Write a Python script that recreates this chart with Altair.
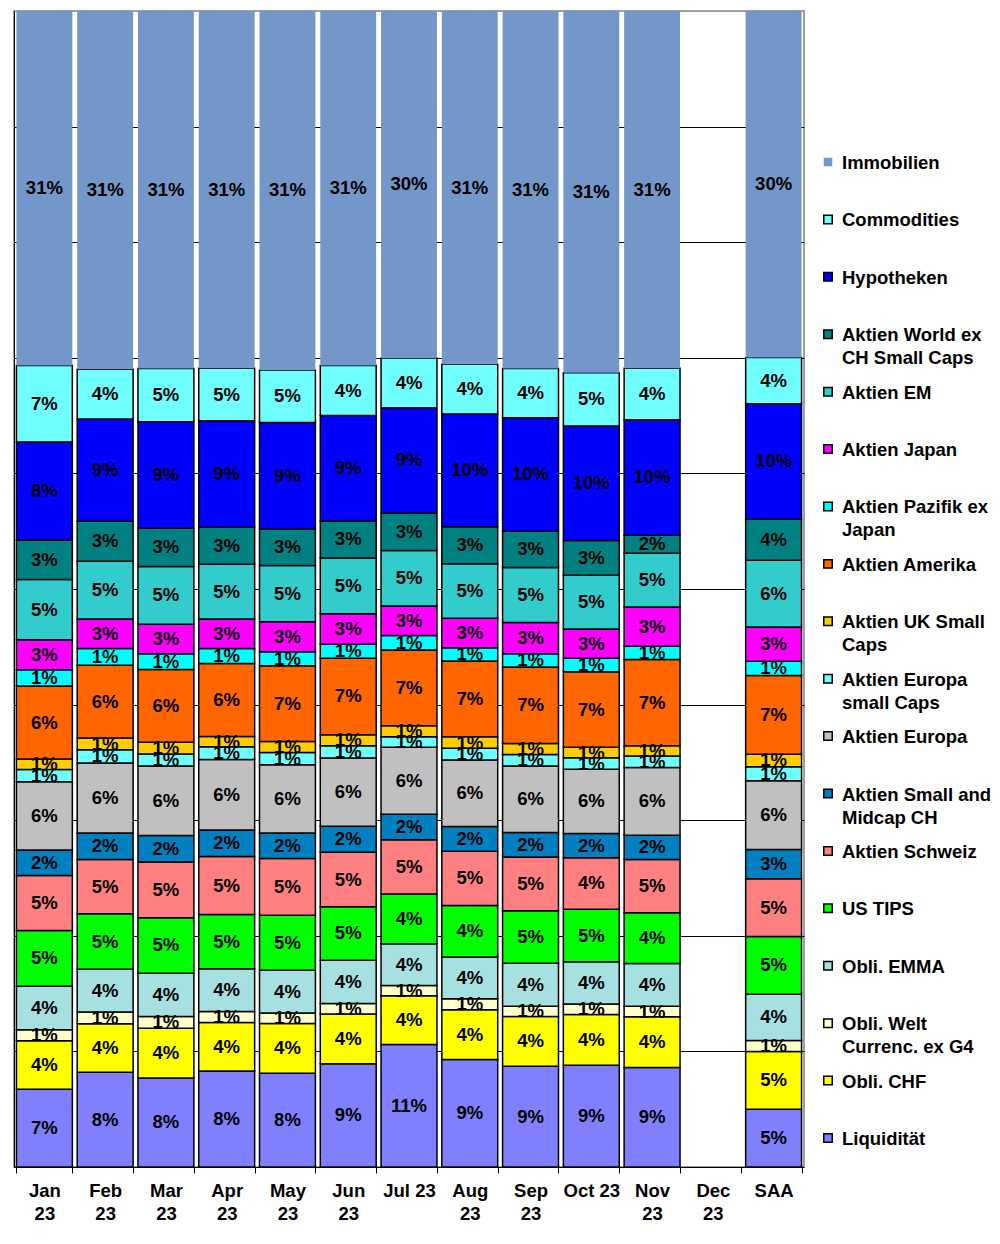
import altair as alt
import pandas as pd

categories = ["Jan 23", "Feb 23", "Mar 23", "Apr 23", "May 23", "Jun 23", "Jul 23",
              "Aug 23", "Sep 23", "Oct 23", "Nov 23", "Dec 23", "SAA"]
tick_lines = [["Jan", "23"], ["Feb", "23"], ["Mar", "23"], ["Apr", "23"], ["May", "23"],
              ["Jun", "23"], ["Jul 23"], ["Aug", "23"], ["Sep", "23"], ["Oct 23"],
              ["Nov", "23"], ["Dec", "23"], ["SAA"]]

# bottom to top of the stack
series = ["Liquidität", "Obli. CHF", "Obli. Welt Currenc. ex G4", "Obli. EMMA", "US TIPS",
          "Aktien Schweiz", "Aktien Small and Midcap CH", "Aktien Europa",
          "Aktien Europa small Caps", "Aktien UK Small Caps", "Aktien Amerika",
          "Aktien Pazifik ex Japan", "Aktien Japan", "Aktien EM",
          "Aktien World ex CH Small Caps", "Hypotheken", "Commodities", "Immobilien"]
legend_labels = ["Liquidität", "Obli. CHF", "Obli. Welt\nCurrenc. ex G4", "Obli. EMMA", "US TIPS",
                 "Aktien Schweiz", "Aktien Small and\nMidcap CH", "Aktien Europa",
                 "Aktien Europa\nsmall Caps", "Aktien UK Small\nCaps", "Aktien Amerika",
                 "Aktien Pazifik ex\nJapan", "Aktien Japan", "Aktien EM",
                 "Aktien World ex\nCH Small Caps", "Hypotheken", "Commodities", "Immobilien"]
colors = ["#8080FF", "#FFFF00", "#FFFFCC", "#A6E0E0", "#00FF00",
          "#FF8080", "#0080C0", "#C0C0C0",
          "#70FFFF", "#FFCC00", "#FF6600",
          "#00FFFF", "#FF00FF", "#33CCCC",
          "#008080", "#0000FF", "#70FFFF", "#7397C8"]

# values in percent, one per category (Dec 23 empty)
liquiditaet = [6.7, 8.2, 7.7, 8.3, 8.1, 8.9, 10.6, 9.3, 8.7, 8.8, 8.6, None, 5.0]
obli_chf = [4.2, 4.2, 4.3, 4.2, 4.3, 4.3, 4.2, 4.3, 4.3, 4.4, 4.4, None, 5.0]
obli_welt = [0.95, 1.0, 1.0, 0.95, 0.9, 0.9, 0.9, 0.95, 0.9, 0.9, 0.9, None, 0.95]
obli_emma = [3.75, 3.7, 3.75, 3.7, 3.7, 3.75, 3.6, 3.6, 3.7, 3.65, 3.7, None, 4.0]
us_tips = [4.8, 4.8, 4.8, 4.7, 4.75, 4.6, 4.3, 4.45, 4.55, 4.55, 4.4, None, 5.0]
aktien_schweiz = [4.75, 4.7, 4.8, 5.0, 4.9, 4.7, 4.7, 4.7, 4.65, 4.45, 4.6, None, 5.0]
aktien_smallmid_ch = [2.2, 2.3, 2.3, 2.3, 2.2, 2.25, 2.2, 2.15, 2.1, 2.1, 2.1, None, 2.55]
aktien_europa = [5.9, 6.05, 6.0, 6.1, 5.9, 5.9, 5.8, 5.75, 5.75, 5.55, 5.85, None, 5.95]
aktien_europa_small = [1.05, 1.15, 1.05, 1.1, 1.05, 1.05, 0.9, 1.0, 1.0, 1.0, 1.0, None, 1.2]
aktien_uk_small = [0.9, 1.0, 1.0, 0.9, 0.95, 0.95, 0.95, 1.0, 0.95, 0.9, 0.9, None, 1.1]
aktien_amerika = [6.3, 6.3, 6.3, 6.3, 6.55, 6.6, 6.55, 6.55, 6.6, 6.55, 7.45, None, 6.8]
aktien_pazifik = [1.4, 1.45, 1.35, 1.3, 1.2, 1.2, 1.25, 1.15, 1.15, 1.15, 1.15, None, 1.25]
aktien_japan = [2.6, 2.55, 2.55, 2.55, 2.6, 2.65, 2.55, 2.55, 2.7, 2.55, 3.4, None, 2.95]
aktien_em = [5.2, 5.0, 5.0, 4.75, 4.85, 4.8, 4.8, 4.7, 4.75, 4.65, 4.65, None, 5.8]
aktien_world_small = [3.4, 3.45, 3.3, 3.2, 3.15, 3.2, 3.25, 3.2, 3.15, 3.0, 1.55, None, 3.55]
hypotheken = [8.45, 8.85, 9.2, 9.2, 9.2, 9.1, 9.1, 9.75, 9.8, 9.9, 10.0, None, 10.0]
commodities = [6.6, 4.3, 4.6, 4.55, 4.55, 4.3, 4.3, 4.3, 4.25, 4.6, 4.45, None, 4.0]
immobilien = [30.6, 31.0, 30.9, 30.9, 31.0, 30.6, 30.0, 30.55, 30.9, 31.3, 30.9, None, 30.0]

series_values = [liquiditaet, obli_chf, obli_welt, obli_emma, us_tips, aktien_schweiz,
                 aktien_smallmid_ch, aktien_europa, aktien_europa_small, aktien_uk_small,
                 aktien_amerika, aktien_pazifik, aktien_japan, aktien_em, aktien_world_small,
                 hypotheken, commodities, immobilien]

rows = []
for i, (s, vals) in enumerate(zip(series, series_values)):
    for c, v in zip(categories, vals):
        if v is not None:
            rows.append({"month": c, "series": s, "idx": i, "value": v})
df = pd.DataFrame(rows)

FONT = "Liberation Sans"
FS = 18.5

color_scale = alt.Scale(domain=series, range=colors)
x_scale = alt.Scale(domain=categories, paddingInner=0.08, paddingOuter=0.04)

cats_js = "[" + ",".join("'%s'" % c for c in categories) + "]"
lines_js = "[" + ",".join("[" + ",".join("'%s'" % t for t in tl) + "]" for tl in tick_lines) + "]"
label_expr = "%s[indexof(%s, datum.value)]" % (lines_js, cats_js)

x_enc = alt.X("month:N", scale=x_scale, title="",
              axis=alt.Axis(labelAngle=0, labelFont=FONT, labelFontWeight="bold",
                            labelFontSize=FS, labelColor="black", labelLineHeight=23,
                            labelExpr=label_expr, tickBand="extent", tickColor="black",
                            tickSize=6, domainColor="black", labelPadding=8))
y_axis = alt.Axis(values=[i / 10 for i in range(1, 10)], labels=False, ticks=False,
                  domain=True, domainColor="black", grid=True, gridColor="black",
                  gridWidth=1, title="")

base = alt.Chart(df).transform_stack(
    stack="value", groupby=["month"], sort=[alt.SortField("idx", order="ascending")],
    as_=["y0", "y1"], offset="normalize"
).transform_calculate(
    mid="(datum.y0 + datum.y1) / 2",
    lab="round(datum.value) + '%'"
)

bars = base.mark_bar(stroke="black").encode(
    x=x_enc,
    y=alt.Y("y0:Q", scale=alt.Scale(domain=[0, 1]), axis=y_axis),
    y2="y1:Q",
    color=alt.Color("series:N", scale=color_scale, legend=None),
    strokeWidth=alt.condition("datum.series == 'Immobilien'", alt.value(0), alt.value(1.5)),
)

texts = base.mark_text(font=FONT, fontWeight="bold", fontSize=FS, color="black").encode(
    x=alt.X("month:N", scale=x_scale),
    y=alt.Y("mid:Q", scale=alt.Scale(domain=[0, 1])),
    text="lab:N",
)

main = alt.layer(bars, texts).properties(
    width=790, height=1156,
    view=alt.ViewBackground(stroke="#808080", strokeWidth=1.5),
)

legend_df = pd.DataFrame({"series": series, "label": legend_labels})
ly = alt.Y("series:N", scale=alt.Scale(domain=series[::-1], range=[151, 1127], padding=0),
           axis=None)

leg_sq = alt.Chart(legend_df).mark_square(size=72, stroke="black", opacity=1).encode(
    x=alt.value(15),
    y=ly,
    color=alt.Color("series:N", scale=color_scale, legend=None),
    strokeWidth=alt.condition("datum.series == 'Immobilien'", alt.value(0), alt.value(1.5)),
)
leg_tx = alt.Chart(legend_df).mark_text(
    align="left", baseline="top", dy=-8, lineBreak="\n", lineHeight=23,
    font=FONT, fontWeight="bold", fontSize=FS, color="black"
).encode(
    x=alt.value(29),
    y=ly,
    text="label:N",
)
legend = alt.layer(leg_sq, leg_tx).properties(
    width=175, height=1156,
    view=alt.ViewBackground(stroke="transparent"),
)

chart = alt.hconcat(main, legend, spacing=7).properties(
    padding={"left": 5, "top": 2, "right": 0, "bottom": 0}
).configure_view(stroke="transparent")

chart.save("out.html", embed_options={"renderer": "svg", "actions": False})
